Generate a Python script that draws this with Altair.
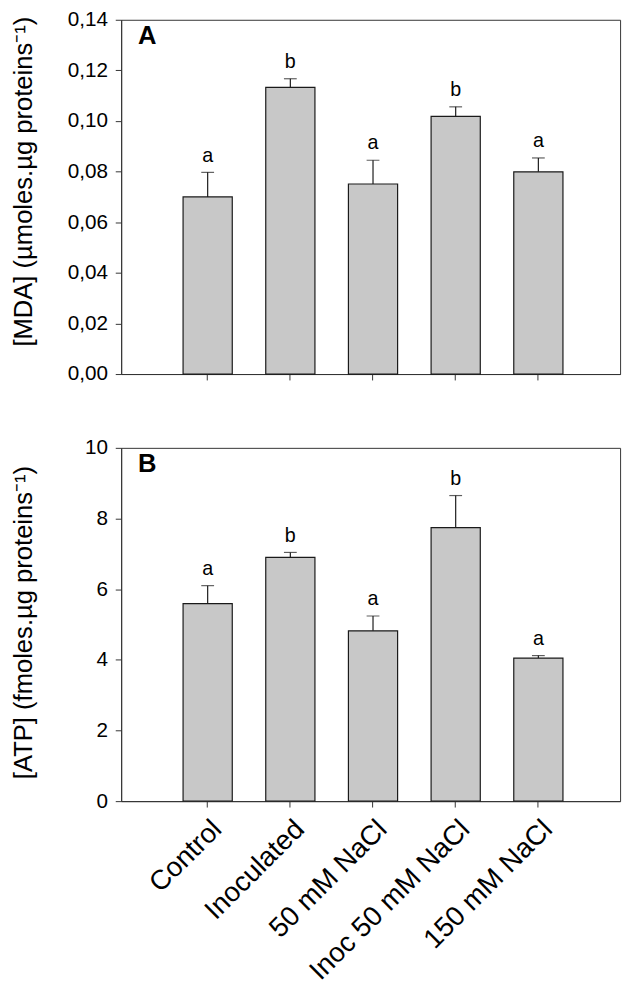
import altair as alt
import pandas as pd

categories = ["Control", "Inoculated", "50 mM NaCl", "Inoc 50 mM NaCl", "150 mM NaCl"]

mda_mean = [0.0700, 0.1133, 0.0751, 0.1018, 0.0799]
mda_err = [0.0097, 0.0034, 0.0094, 0.0038, 0.0055]
mda_letters = ["a", "b", "a", "b", "a"]
mda_ticks = [0.0, 0.02, 0.04, 0.06, 0.08, 0.10, 0.12, 0.14]

atp_mean = [5.59, 6.90, 4.82, 7.74, 4.05]
atp_err = [0.51, 0.14, 0.42, 0.91, 0.07]
atp_letters = ["a", "b", "a", "b", "a"]
atp_ticks = [0, 2, 4, 6, 8, 10]

FONT = "Liberation Sans"
INK = "#1a1a1a"


def panel(mean, err, letters, ymax, ticks, title, fmt_expr, panel_label,
          show_x_labels, height, title_y):
    df = pd.DataFrame({
        "cat": categories,
        "mean": mean,
        "top": [m + e for m, e in zip(mean, err)],
        "letter": letters,
    })
    xscale = alt.Scale(domain=categories, paddingInner=0.405,
                       paddingOuter=0.72, align=0.52)
    xaxis = alt.Axis(title=None, labels=show_x_labels, labelAngle=-45,
                     labelAlign="right", labelBaseline="middle",
                     labelFontSize=28, labelOffset=10, labelPadding=18,
                     labelLimit=400, labelOverlap=False,
                     tickSize=6, labelFont=FONT, labelColor="black",
                     domainColor="#333", tickColor="#333", grid=False)
    x = alt.X("cat:N", sort=categories, scale=xscale, axis=xaxis)
    yscale = alt.Scale(domain=[0, ymax], nice=False, zero=True)
    yaxis = alt.Axis(title=title, values=ticks, labelExpr=fmt_expr,
                     labelFont=FONT, labelFontSize=21, labelColor="black",
                     titleFont=FONT, titleFontSize=26, titleFontWeight="normal",
                     titleColor="black", titleX=-99, titleY=title_y,
                     titleBaseline="middle", titleAngle=-90, titleAlign="center",
                     titleLimit=500,
                     tickSize=6, labelPadding=8, domainColor="#333",
                     tickColor="#333", grid=False)
    base = alt.Chart(df)
    bars = base.mark_bar(fill="#c8c8c8", stroke=INK, strokeWidth=1.2).encode(
        x=x, y=alt.Y("mean:Q", scale=yscale, axis=yaxis))
    rule = base.mark_rule(color=INK, strokeWidth=1.2).encode(
        x=x, y=alt.Y("mean:Q", scale=yscale, axis=yaxis), y2="top:Q")
    cap = base.mark_tick(color=INK, size=13, thickness=1.2,
                         orient="horizontal").encode(
        x=x, y=alt.Y("top:Q", scale=yscale, axis=yaxis))
    txt = base.mark_text(font=FONT, fontSize=20, baseline="alphabetic",
                         dy=-11, color="black").encode(
        x=x, y=alt.Y("top:Q", scale=yscale, axis=yaxis), text="letter:N")
    lab = alt.Chart(pd.DataFrame({"t": [panel_label]})).mark_text(
        font=FONT, fontSize=26, fontWeight="bold", align="left",
        baseline="alphabetic", color="black").encode(
        x=alt.value(17), y=alt.value(25), text="t:N")
    return alt.layer(bars, rule, cap, txt, lab).properties(width=507, height=height)


chart_a = panel(mda_mean, mda_err, mda_letters, 0.14, mda_ticks,
                "[MDA] (µmoles.µg proteins⁻¹)",
                "replace(format(datum.value, '.2f'), '.', ',')",
                "A", False, 360, 164)
chart_b = panel(atp_mean, atp_err, atp_letters, 10, atp_ticks,
                "[ATP] (fmoles.µg proteins⁻¹)",
                "format(datum.value, 'd')",
                "B", True, 359, 177)


def build(top_pad):
    return alt.vconcat(chart_a, chart_b, spacing=52).properties(
        padding={"left": 2, "top": top_pad, "right": 5, "bottom": 0},
        background="white"
    ).configure_view(stroke="#333", strokeWidth=1)


try:
    chart = build(-8)
    chart.save("out.html", embed_options={"renderer": "svg", "actions": False})
except Exception:
    chart = build(0)
    chart.save("out.html", embed_options={"renderer": "svg", "actions": False})
